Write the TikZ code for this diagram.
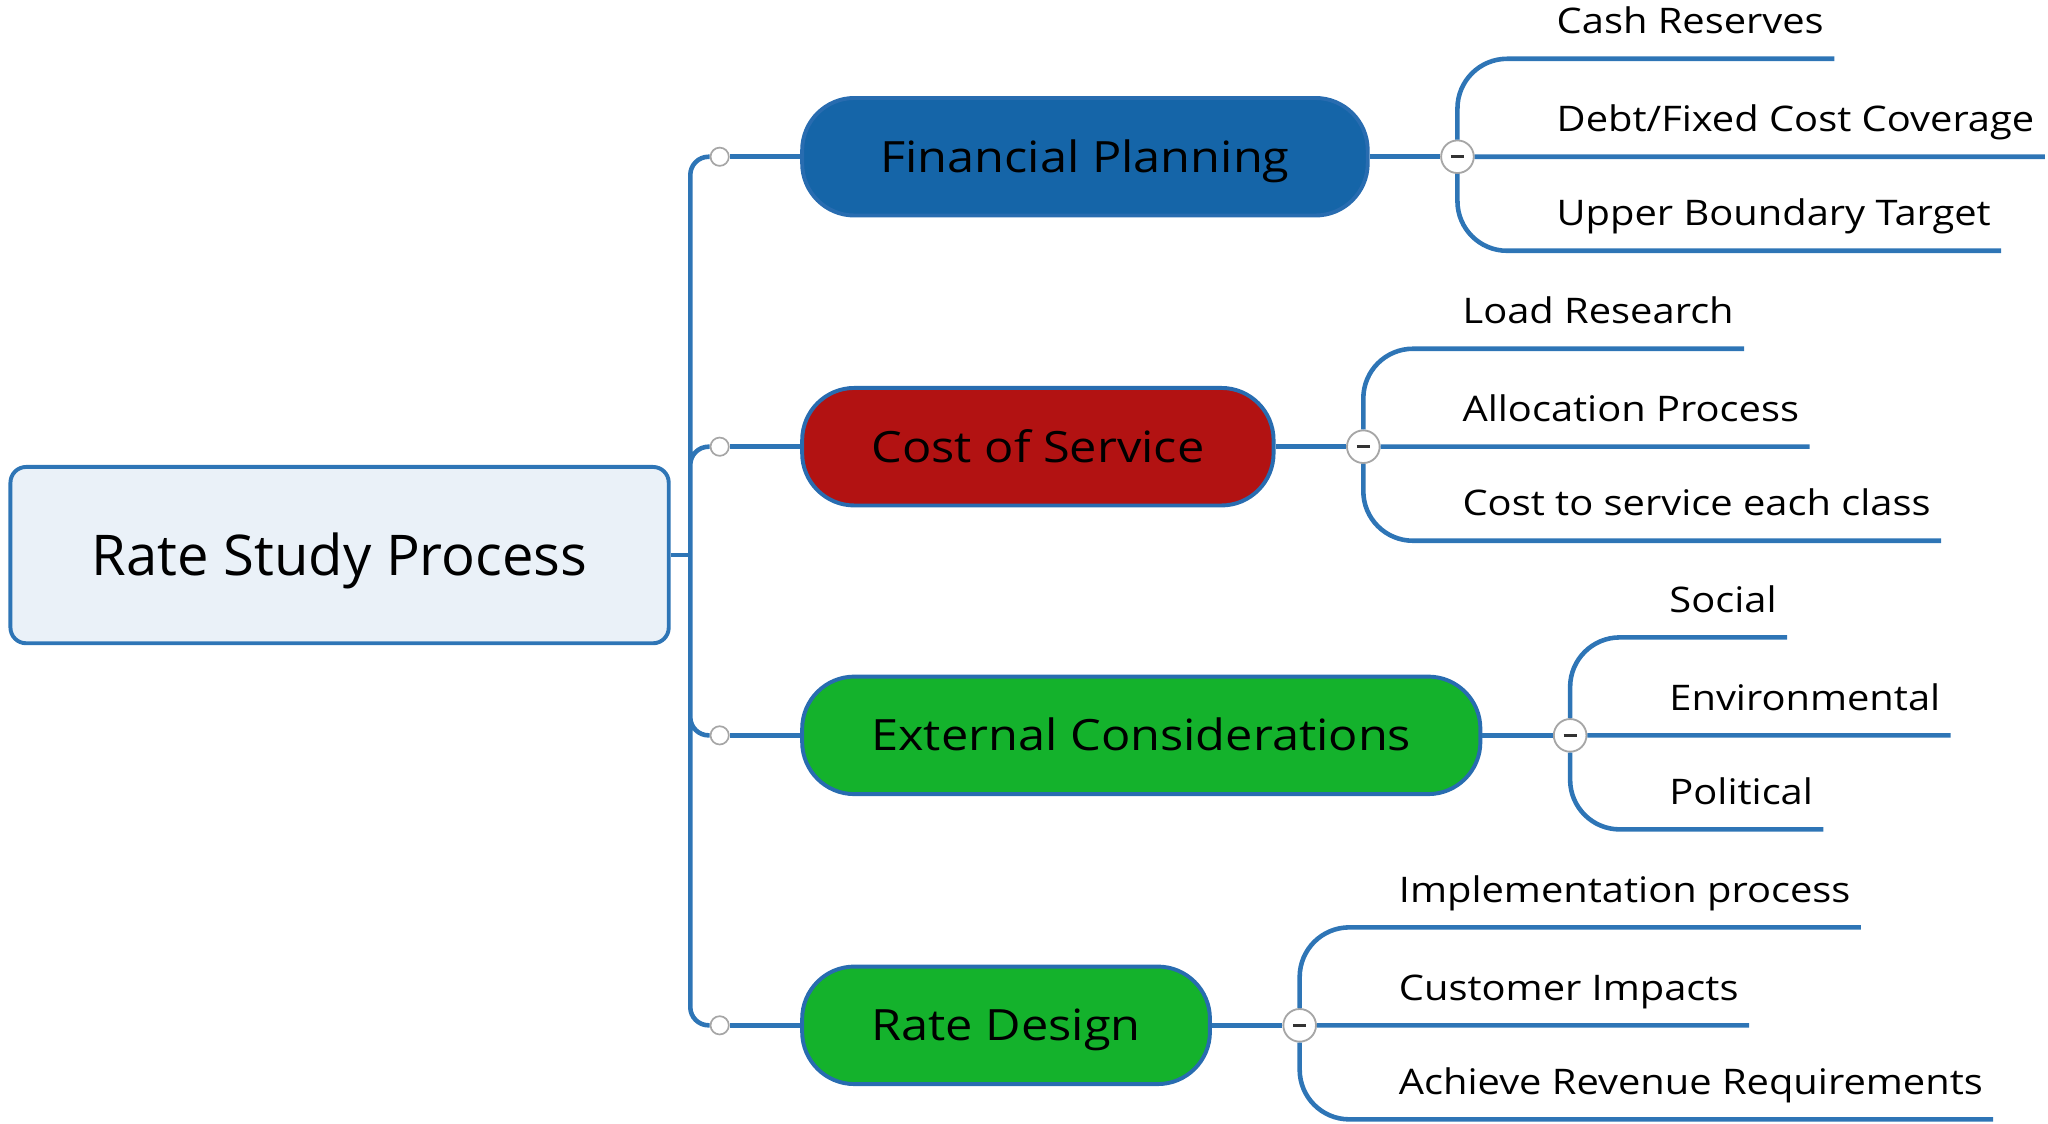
\documentclass[tikz,border=0pt]{standalone}
\usepackage{fontspec}
\setmainfont{Open Sans}
\newfontfamily\mapfont{Open Sans}[FakeStretch=1.13]
\usetikzlibrary{positioning}

\definecolor{linkblue}{RGB}{46,117,182}
\definecolor{edgeblue}{RGB}{40,108,176}
\definecolor{rootfill}{RGB}{234,241,248}
\definecolor{finblue}{RGB}{21,101,168}
\definecolor{costred}{RGB}{178,18,18}
\definecolor{extgreen}{RGB}{20,178,44}

\begin{document}
\begin{tikzpicture}[x=1pt, y=-1pt,
                link/.style = {draw=linkblue, line width=3.5pt},
                rootbox/.style = {shape=rectangle, draw=linkblue, line width=3pt, fill=rootfill,
                                  rounded corners=12pt, minimum width=504pt, minimum height=135pt,
                                  text height=30.7pt, text depth=0pt, font=\fontsize{43}{50}\selectfont},
                branch/.style = {shape=rectangle, draw=edgeblue, line width=3pt, rounded corners=40pt,
                                 minimum height=90pt, inner xsep=53pt, text height=23.6pt, text depth=0pt,
                                 font=\mapfont\fontsize{33}{40}\selectfont},
                dot/.style = {circle, draw=gray!70, fill=white, line width=1.3pt, minimum size=14pt, inner sep=0pt},
                fold/.style = {circle, draw=gray!70, fill=white, line width=1.4pt, minimum size=25pt, inner sep=0pt},
                kid/.style = {anchor=south west, inner sep=0pt, outer sep=0pt, text depth=19pt,
                              font=\mapfont\fontsize{27}{32}\selectfont}]
            \useasboundingbox (0,0) rectangle (1568,860.5);

            \node[rootbox] (root) at (260,425) {Rate Study Process};

            \node[dot] (fin-dot) at (551,120) {};
            \node[dot] (cos-dot) at (551,342) {};
            \node[dot] (ext-dot) at (551,563) {};
            \node[dot] (rd-dot)  at (551,785) {};

            \node[branch, fill=finblue, minimum width=433pt] (fin) [right = 54pt of fin-dot] {Financial Planning};
            \node[branch, fill=costred]  (cos) [right = 54pt of cos-dot] {Cost of Service};
            \node[branch, fill=extgreen] (ext) [right = 54pt of ext-dot] {External Considerations};
            \node[branch, fill=extgreen] (rd)  [right = 54pt of rd-dot]  {Rate Design};

            \node[fold] (fin-m) [right = 54pt of fin] {\color{black!80}\rule{10pt}{2pt}};
            \node[fold] (cos-m) [right = 54pt of cos] {\color{black!80}\rule{10pt}{2pt}};
            \node[fold] (ext-m) [right = 54pt of ext] {\color{black!80}\rule{10pt}{2pt}};
            \node[fold] (rd-m)  [right = 54pt of rd]  {\color{black!80}\rule{10pt}{2pt}};

            % children
            \node[kid] (fin-k1) at ([shift={(76,-75)}]fin-m) {Cash Reserves};
            \node[kid] (fin-k2) at ([shift={(76,0)}]fin-m)   {Debt/Fixed Cost Coverage};
            \node[kid] (fin-k3) at ([shift={(76,72)}]fin-m)  {Upper Boundary Target};

            \node[kid] (cos-k1) at ([shift={(76,-75)}]cos-m) {Load Research};
            \node[kid] (cos-k2) at ([shift={(76,0)}]cos-m)   {Allocation Process};
            \node[kid] (cos-k3) at ([shift={(76,72)}]cos-m)  {Cost to service each class};

            \node[kid] (ext-k1) at ([shift={(76,-75)}]ext-m) {Social};
            \node[kid] (ext-k2) at ([shift={(76,0)}]ext-m)   {Environmental};
            \node[kid] (ext-k3) at ([shift={(76,72)}]ext-m)  {Political};

            \node[kid] (rd-k1) at ([shift={(76,-75)}]rd-m) {Implementation process};
            \node[kid] (rd-k2) at ([shift={(76,0)}]rd-m)   {Customer Impacts};
            \node[kid] (rd-k3) at ([shift={(76,72)}]rd-m)  {Achieve Revenue Requirements};

            % trunk
            \draw[link] (root.east) -- ++(15,0) coordinate (trunk);
            \draw[link, rounded corners=14pt]
            (trunk) |- (fin-dot)
            (trunk) |- (cos-dot)
            (trunk) |- (ext-dot)
            (trunk) |- (rd-dot);

            \path[link]
            (fin-dot) edge (fin)
            (cos-dot) edge (cos)
            (ext-dot) edge (ext)
            (rd-dot)  edge (rd)
            (fin)     edge (fin-m)
            (cos)     edge (cos-m)
            (ext)     edge (ext-m)
            (rd)      edge (rd-m);

            % brackets
            \draw[link, rounded corners=38pt]
            (fin-m.north) |- ([xshift=8pt]fin-k1.south east)
            (fin-m.east)  -- ([xshift=8pt]fin-k2.south east)
            (fin-m.south) |- ([xshift=8pt]fin-k3.south east);
            \draw[link, rounded corners=38pt]
            (cos-m.north) |- ([xshift=8pt]cos-k1.south east)
            (cos-m.east)  -- ([xshift=8pt]cos-k2.south east)
            (cos-m.south) |- ([xshift=8pt]cos-k3.south east);
            \draw[link, rounded corners=38pt]
            (ext-m.north) |- ([xshift=8pt]ext-k1.south east)
            (ext-m.east)  -- ([xshift=8pt]ext-k2.south east)
            (ext-m.south) |- ([xshift=8pt]ext-k3.south east);
            \draw[link, rounded corners=38pt]
            (rd-m.north) |- ([xshift=8pt]rd-k1.south east)
            (rd-m.east)  -- ([xshift=8pt]rd-k2.south east)
            (rd-m.south) |- ([xshift=8pt]rd-k3.south east);
        \end{tikzpicture}
\end{document}
